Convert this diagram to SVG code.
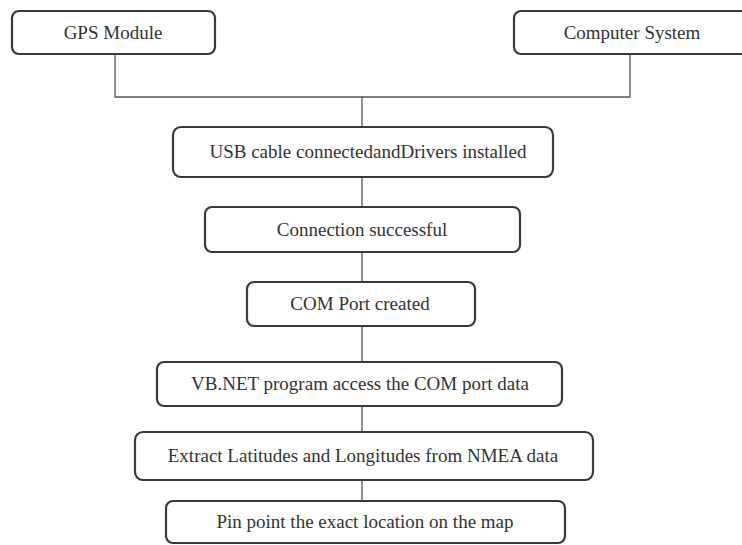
<svg xmlns="http://www.w3.org/2000/svg" width="742" height="545" viewBox="0 0 742 545">
<style>
.box{fill:#fff;stroke:#3a3a3a;stroke-width:2.2}
.lbl{font-size:19px;fill:#333;text-anchor:middle}
.ln{fill:none;stroke:#555;stroke-width:1.3}
</style>
<rect width="742" height="545" fill="#fff"/>
<g id="connectors">
<path class="ln" d="M115 54V97H630V54M362 97V127"/>
<path class="ln" d="M362 177V207"/>
<path class="ln" d="M362 252V282"/>
<path class="ln" d="M362 326V362"/>
<path class="ln" d="M362 406V432"/>
<path class="ln" d="M362 480V501"/>
</g>
<g font-family="'Liberation Serif', 'Times New Roman', 'DejaVu Serif', serif">
<g id="gps"><rect class="box" x="12" y="11" width="203" height="43" rx="7"/><text class="lbl" x="113" y="39">GPS Module</text></g>
<g id="computer"><rect class="box" x="514" y="11" width="240" height="43" rx="7"/><text class="lbl" x="632" y="39">Computer System</text></g>
<g id="usb"><rect class="box" x="173" y="127" width="380" height="50" rx="8"/><text class="lbl" x="368" y="158">USB cable connectedandDrivers installed</text></g>
<g id="connection"><rect class="box" x="205" y="207" width="315" height="45" rx="7"/><text class="lbl" x="362" y="236">Connection successful</text></g>
<g id="com"><rect class="box" x="247" y="282" width="228" height="44" rx="7"/><text class="lbl" x="360" y="310">COM Port created</text></g>
<g id="vbnet"><rect class="box" x="157" y="362" width="405" height="44" rx="7"/><text class="lbl" x="360" y="390">VB.NET program access the COM port data</text></g>
<g id="extract"><rect class="box" x="135" y="432" width="458" height="48" rx="8"/><text class="lbl" x="363" y="462">Extract Latitudes and Longitudes from NMEA data</text></g>
<g id="pin"><rect class="box" x="166" y="501" width="399" height="42" rx="7"/><text class="lbl" x="365" y="528">Pin point the exact location on the map</text></g>
</g>
</svg>
